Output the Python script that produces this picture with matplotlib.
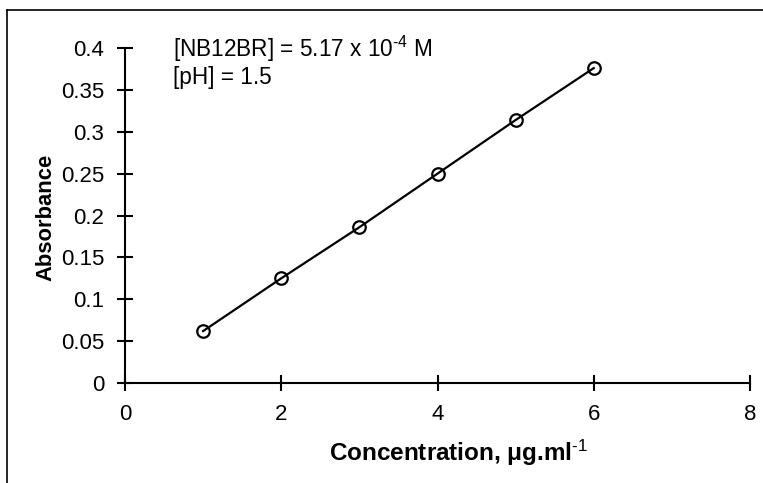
import matplotlib
matplotlib.use("Agg")
import matplotlib.pyplot as plt
from matplotlib.lines import Line2D

plt.rcParams['font.family'] = ['Liberation Sans', 'DejaVu Sans']
plt.rcParams['mathtext.fontset'] = 'custom'
plt.rcParams['mathtext.rm'] = 'Liberation Sans'
plt.rcParams['mathtext.it'] = 'Liberation Sans:italic'
plt.rcParams['mathtext.bf'] = 'Liberation Sans:bold'

concentration = [1, 2, 3, 4, 5, 6]
absorbance = [0.062, 0.125, 0.186, 0.250, 0.314, 0.376]
x_ticks = [0, 2, 4, 6, 8]
y_ticks = [0, 0.05, 0.1, 0.15, 0.2, 0.25, 0.3, 0.35, 0.4]
y_tick_labels = ['0', '0.05', '0.1', '0.15', '0.2', '0.25', '0.3', '0.35', '0.4']

fig = plt.figure(figsize=(7.63, 4.83), dpi=100)
ax = fig.add_axes([125/763, 1-383/483, (750-125)/763, (383-48)/483])

ax.plot(concentration, absorbance, color='black', lw=1.6, marker='o', ms=9,
        mfc='none', mec='black', mew=1.6)

ax.set_xlim(0, 8)
ax.set_ylim(0, 0.4)
ax.set_xticks(x_ticks)
ax.set_yticks(y_ticks)
ax.set_yticklabels(y_tick_labels)
for s in ['top', 'right']:
    ax.spines[s].set_visible(False)
for s in ['left', 'bottom']:
    ax.spines[s].set_linewidth(1.5)
ax.tick_params(direction='inout', length=11, width=1.5, labelsize=16, pad=9.5)

ax.set_xlabel(r'Concentration, $\mathregular{\mu}$g.ml$^{\text{-1}}$', fontsize=17.5, fontweight='bold')
ax.xaxis.set_label_coords(0.533, -0.163)
ax.set_ylabel('Absorbance', fontsize=15.8, fontweight='bold')
ax.yaxis.label.set_verticalalignment('center')
ax.yaxis.set_label_coords(-0.126, 0.495)

ax.text(0.077, 1.043, r'[NB12BR] = 5.17 x 10$^{\text{-4}}$ M' + '\n[pH] = 1.5',
        transform=ax.transAxes, fontsize=16.3, va='top', ha='left', linespacing=1.1)

fig.add_artist(Line2D([7/763, 7/763], [0, 1-10/483], transform=fig.transFigure, color='black', lw=1.2))
fig.add_artist(Line2D([7/763, 1], [1-10/483, 1-10/483], transform=fig.transFigure, color='black', lw=1.2))

fig.savefig('out.png', dpi=100)
